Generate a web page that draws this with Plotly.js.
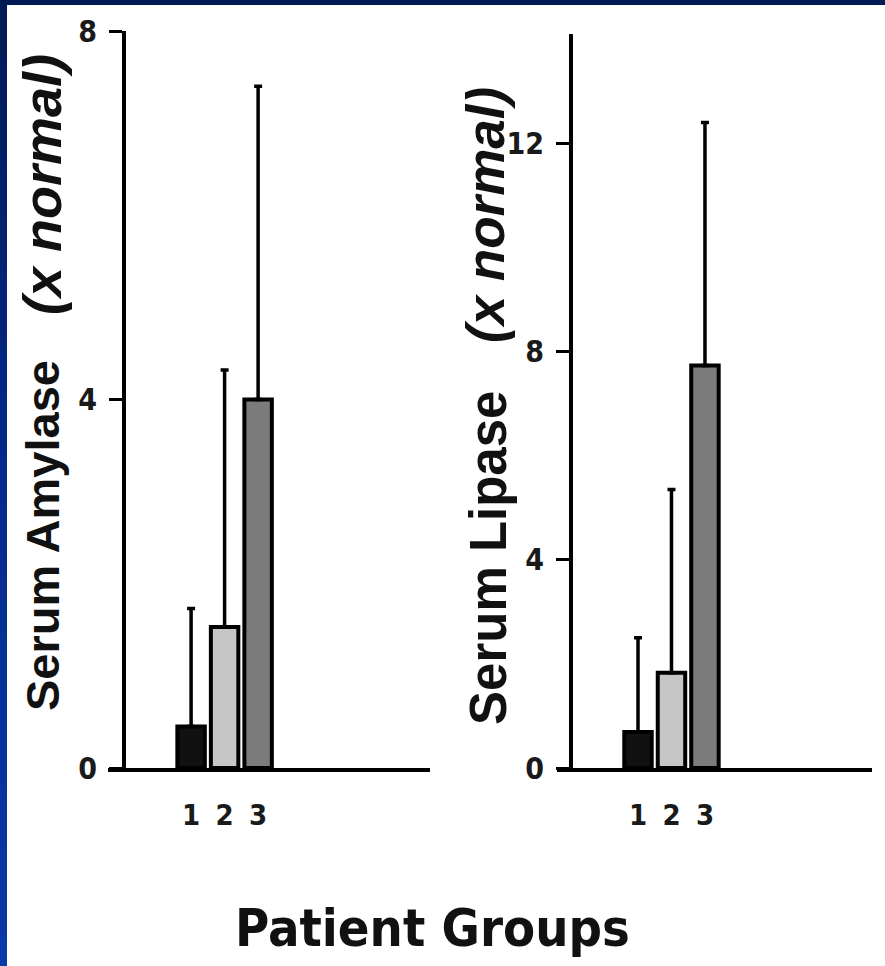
<!DOCTYPE html>
<html>
<head>
<meta charset="utf-8">
<script src="https://cdn.plot.ly/plotly-3.0.1.min.js"></script>
<style>
  html, body { margin: 0; padding: 0; width: 885px; height: 966px; overflow: hidden; }
  #frame { position: absolute; left: 0; top: 0; width: 885px; height: 966px;
           background: linear-gradient(to bottom, #001a55 0%, #062a8c 50%, #0a3aa8 100%); }
  #paper { position: absolute; left: 7px; top: 5px; right: 0; bottom: 0; background: #ffffff; }
  #chart { position: absolute; left: 0; top: 0; width: 885px; height: 966px; }
</style>
</head>
<body>
<div id="frame"><div id="paper"></div></div>
<div id="chart"></div>
<script>
// ---- data ----
var groupPos = [1, 2, 3];
var groupLabels = ['1', '2', '3'];
var amylaseMean = [0.45, 1.53, 4.0];
var amylaseUpper = [1.73, 4.32, 7.4];
var lipaseMean = [0.69, 1.83, 7.73];
var lipaseUpper = [2.5, 5.35, 12.4];
var barColors = ['#111111', '#c6c6c6', '#7b7b7b'];
var amylaseTicks = [0, 4, 8];
var lipaseTicks = [0, 4, 8, 12];

function diffs(upper, mean) { return upper.map(function (u, i) { return u - mean[i]; }); }

var W = 885, H = 966;
function px(x) { return x / W; }
function py(y) { return 1 - y / H; }

var sans = '"Liberation Sans", Arial, sans-serif';
var cond = '"DejaVu Sans Condensed", "Liberation Sans", Arial, sans-serif';

function barTrace(mean, upper, xa, ya) {
  return {
    type: 'bar', x: groupPos, y: mean, xaxis: xa, yaxis: ya,
    width: 0.82,
    marker: { color: barColors, line: { color: '#000', width: 4 } },
    error_y: { type: 'data', symmetric: false, array: diffs(upper, mean),
               arrayminus: [0, 0, 0], color: '#000', thickness: 3.5, width: 4 },
    hoverinfo: 'skip', showlegend: false
  };
}

var data = [
  barTrace(amylaseMean, amylaseUpper, 'x', 'y'),
  barTrace(lipaseMean, lipaseUpper, 'x2', 'y2')
];

function xAxis(domain, range, anchor) {
  return {
    domain: domain, range: range, anchor: anchor,
    tickmode: 'array', tickvals: groupPos, ticktext: groupLabels,
    ticks: '', ticklabelstandoff: 18,
    tickfont: { family: cond, size: 29, color: '#1a1a1a', weight: 'bold' },
    showline: true, linecolor: '#000', linewidth: 4,
    showgrid: false, zeroline: false, fixedrange: true
  };
}
function yAxis(domain, range, pos, tickvals) {
  return {
    domain: domain, range: range, anchor: 'free', position: pos,
    tickmode: 'array', tickvals: tickvals,
    ticks: 'outside', ticklen: 13, tickwidth: 3, tickcolor: '#000',
    ticklabelstandoff: 6,
    tickfont: { family: cond, size: 30, color: '#1a1a1a', weight: 'bold' },
    showline: true, linecolor: '#000', linewidth: 3.5,
    showgrid: false, zeroline: false, fixedrange: true
  };
}

var layout = {
  width: W, height: H,
  margin: { l: 0, r: 0, t: 0, b: 0, pad: 0 },
  paper_bgcolor: 'rgba(0,0,0,0)', plot_bgcolor: 'rgba(0,0,0,0)',
  bargap: 0,
  xaxis: xAxis([px(108), px(430)], [-1.48, 8.13], 'y'),
  yaxis: yAxis([py(768), py(31)], [0, 8], px(123), amylaseTicks),
  xaxis2: xAxis([px(557), px(872)], [-1.42, 7.99], 'y2'),
  yaxis2: yAxis([py(768), py(34)], [0, 14.1], px(570), lipaseTicks),
  annotations: [
    { xref: 'paper', yref: 'paper', x: px(42), y: py(536), text: '<b>Serum Amylase</b>',
      textangle: -90, showarrow: false, xanchor: 'center', yanchor: 'middle',
      font: { family: sans, size: 47, color: '#111' } },
    { xref: 'paper', yref: 'paper', x: px(42), y: py(185), text: '<b><i>(x normal)</i></b>',
      textangle: -90, showarrow: false, xanchor: 'center', yanchor: 'middle',
      font: { family: sans, size: 54, color: '#111' } },
    { xref: 'paper', yref: 'paper', x: px(488), y: py(558), text: '<b>Serum Lipase</b>',
      textangle: -90, showarrow: false, xanchor: 'center', yanchor: 'middle',
      font: { family: sans, size: 51, color: '#111' } },
    { xref: 'paper', yref: 'paper', x: px(485), y: py(215), text: '<b><i>(x normal)</i></b>',
      textangle: -90, showarrow: false, xanchor: 'center', yanchor: 'middle',
      font: { family: sans, size: 53, color: '#111' } },
    { xref: 'paper', yref: 'paper', x: px(432), y: py(928), text: '<b>Patient Groups</b>',
      showarrow: false, xanchor: 'center', yanchor: 'middle',
      font: { family: cond, size: 52, color: '#111' } }
  ]
};

Plotly.newPlot('chart', data, layout, { displayModeBar: false, staticPlot: true });
</script>
</body>
</html>
